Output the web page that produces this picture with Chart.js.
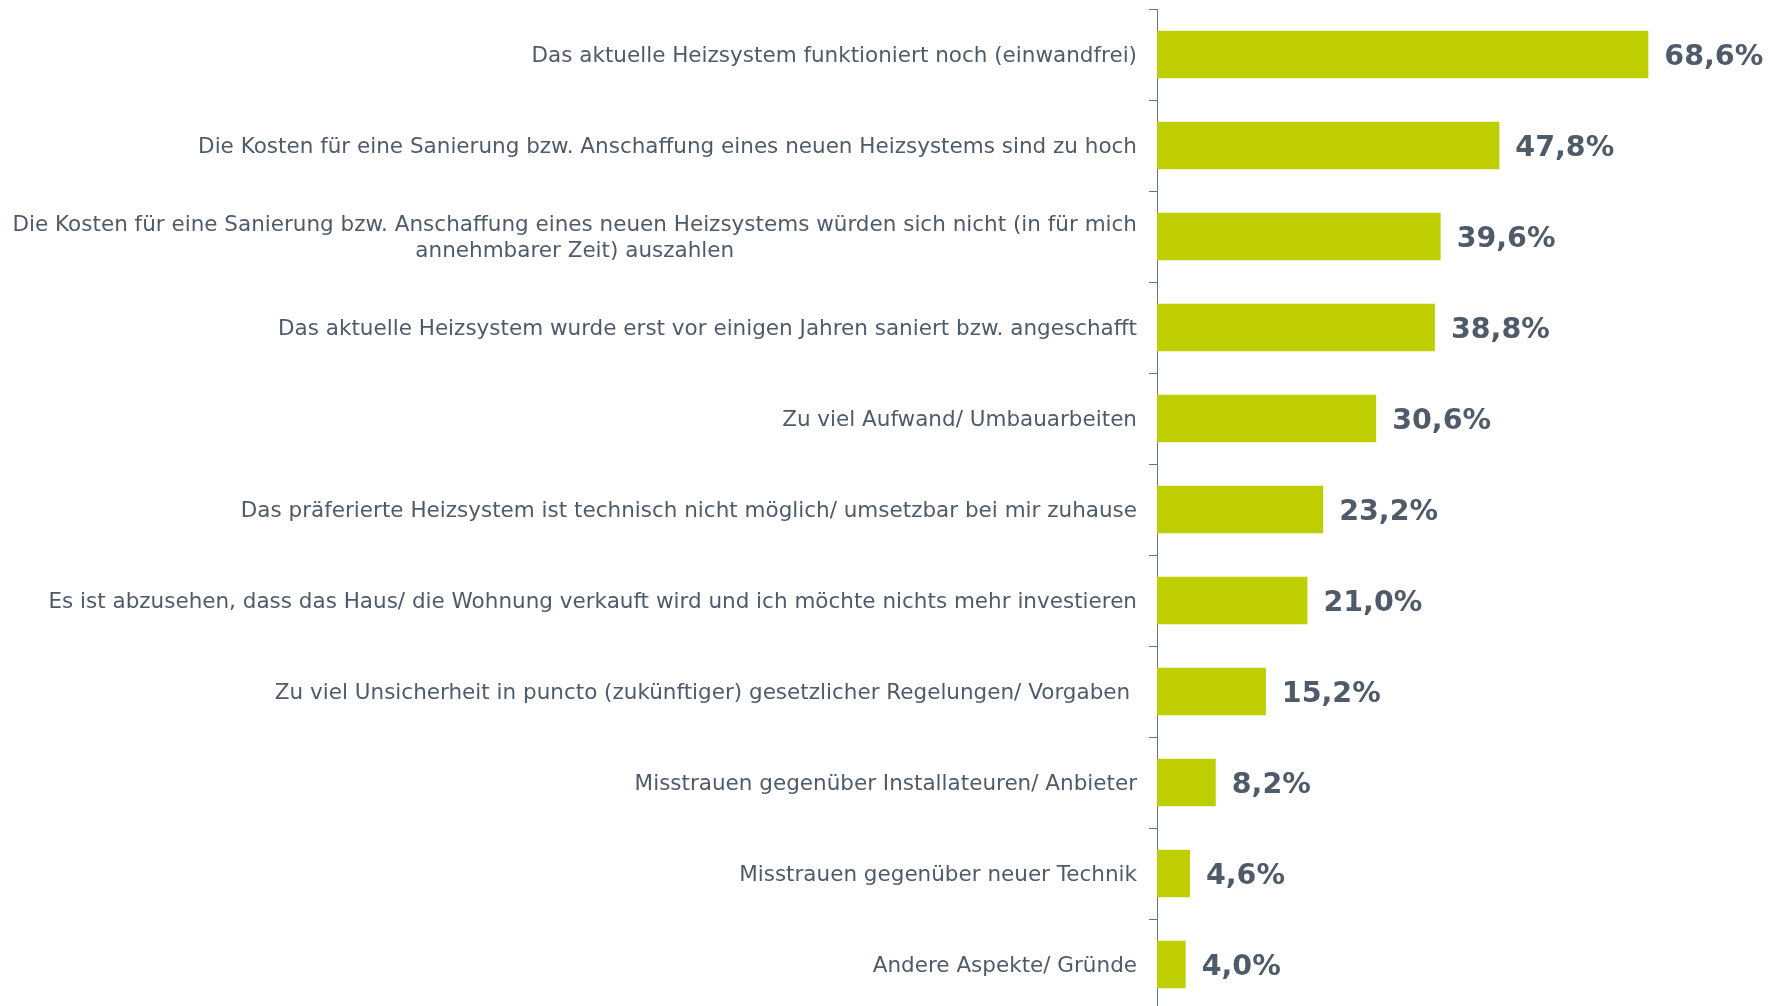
<!DOCTYPE html>
<html>
<head>
<meta charset="utf-8">
<script src="https://cdn.jsdelivr.net/npm/chart.js@4"></script>
<style>
  html,body{margin:0;padding:0;background:#fff;overflow:hidden;}
  #wrap{width:1782px;height:1010px;position:relative;}
</style>
</head>
<body>
<div id="wrap"><canvas id="barChart"></canvas></div>
<script>
/* DATA */

const categories = [
  ["Das aktuelle Heizsystem funktioniert noch (einwandfrei)"],
  ["Die Kosten für eine Sanierung bzw. Anschaffung eines neuen Heizsystems sind zu hoch"],
  ["Die Kosten für eine Sanierung bzw. Anschaffung eines neuen Heizsystems würden sich nicht (in für mich", "annehmbarer Zeit) auszahlen"],
  ["Das aktuelle Heizsystem wurde erst vor einigen Jahren saniert bzw. angeschafft"],
  ["Zu viel Aufwand/ Umbauarbeiten"],
  ["Das präferierte Heizsystem ist technisch nicht möglich/ umsetzbar bei mir zuhause"],
  ["Es ist abzusehen, dass das Haus/ die Wohnung verkauft wird und ich möchte nichts mehr investieren"],
  ["Zu viel Unsicherheit in puncto (zukünftiger) gesetzlicher Regelungen/ Vorgaben "],
  ["Misstrauen gegenüber Installateuren/ Anbieter"],
  ["Misstrauen gegenüber neuer Technik"],
  ["Andere Aspekte/ Gründe"]
];

const shares = [68.6, 47.8, 39.6, 38.8, 30.6, 23.2, 21.0, 15.2, 8.2, 4.6, 4.0];

const barColor = "#bfce00";
const textColor = "#4f5b69";
const axisColor = "#6b7480";

/* LABEL PLUGINS */

const categoryLabels = {
  id: "categoryLabels",
  afterDraw(chart){
    const ctx = chart.ctx;
    const yScale = chart.scales.y;
    const right = chart.chartArea.left - 20;
    ctx.save();
    ctx.font = "21.5px 'DejaVu Sans', Verdana, sans-serif";
    ctx.fillStyle = textColor;
    ctx.textBaseline = "middle";
    ctx.textAlign = "center";
    categories.forEach((lines, i) => {
      const yc = yScale.getPixelForValue(i) + 2;
      let maxW = 0;
      lines.forEach(l => { maxW = Math.max(maxW, ctx.measureText(l).width); });
      const cx = right - maxW / 2;
      const lh = 26;
      const y0 = yc - (lines.length - 1) * lh / 2;
      lines.forEach((l, k) => {
        ctx.fillText(l, cx, y0 + k * lh);
      });
    });
    ctx.restore();
  }
};

const valueLabels = {
  id: "valueLabels",
  afterDatasetsDraw(chart){
    const ctx = chart.ctx;
    const meta = chart.getDatasetMeta(0);
    ctx.save();
    ctx.font = "bold 28.5px 'DejaVu Sans', Verdana, sans-serif";
    ctx.fillStyle = textColor;
    ctx.textAlign = "left";
    ctx.textBaseline = "middle";
    meta.data.forEach((bar, i) => {
      const txt = shares[i].toFixed(1).replace(".", ",") + "%";
      ctx.fillText(txt, bar.x + 16, bar.y + 3);
    });
    ctx.restore();
  }
};

/* CHART */

const chartCtx = document.getElementById("barChart");

new Chart(chartCtx, {
  type: "bar",
  data: {
    labels: categories.map(c => c.join(" ")),
    datasets: [{
      data: shares,
      backgroundColor: barColor,
      barPercentage: 0.52,
      categoryPercentage: 1
    }]
  },
  options: {
    indexAxis: "y",
    responsive: true,
    maintainAspectRatio: false,
    animation: false,
    layout: {
      padding: { top: 9, right: 52, bottom: 0, left: 0 }
    },
    plugins: {
      legend: { display: false },
      tooltip: { enabled: false }
    },
    scales: {
      x: {
        display: false,
        min: 0,
        max: 80
      },
      y: {
        afterFit(scale){ scale.width = 1157; },
        ticks: { display: false },
        grid: {
          offset: true,
          drawOnChartArea: false,
          drawTicks: true,
          tickLength: 8,
          color: axisColor,
          lineWidth: 1
        },
        border: { display: true, color: axisColor, width: 1 }
      }
    }
  },
  plugins: [categoryLabels, valueLabels]
});
</script>
</body>
</html>
